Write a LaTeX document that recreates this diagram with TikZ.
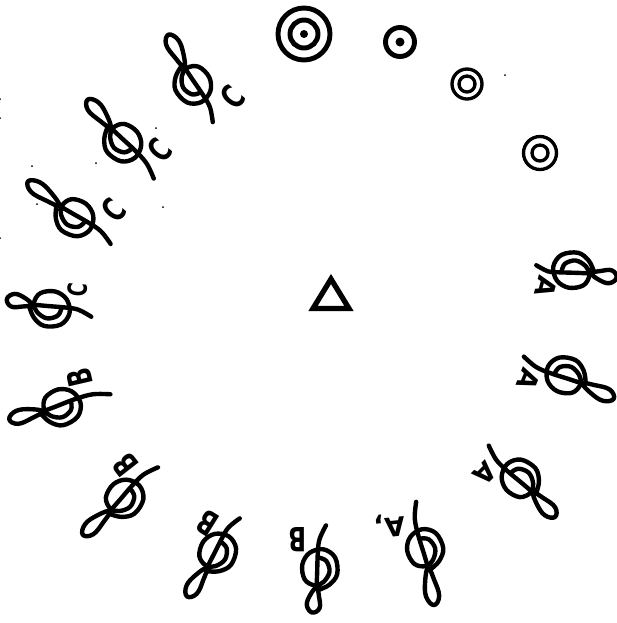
\documentclass[tikz,border=0pt]{standalone}
\usepackage{fontspec}
\setmainfont{DejaVu Sans}
\tikzset{
  inkline/.style={line width=2.5pt, line cap=round, line join=round},
  thinring/.style={line width=1.9pt},
  thickring/.style={line width=2.8pt},
  cleftext/.style={inner sep=0pt, font=\bfseries\fontsize{15}{15}\selectfont},
  bigtext/.style={inner sep=0pt, font=\bfseries\fontsize{19}{19}\selectfont}
}
% one clef: centre x, centre y, turn, loop stretch, tail length
\newcommand{\clefsign}[5]{
  \begin{scope}[shift={(#1,#2)}, rotate=#3, inkline]
    \draw plot[smooth cycle, tension=0.7] coordinates {
      (0,-20) (5,{-20-12*#4}) (6.5,{-20-27*#4}) (0,{-20-36*#4}) (-6.5,{-20-28*#4}) (-4,{-20-12*#4})
    };
    \draw plot[smooth, tension=0.6] coordinates {
      (0,-20) (2,-5) (4.6,13) (5.5,{#5*0.65}) (1.5,#5)
    };
    \draw plot[smooth, tension=0.6] coordinates {
      (-2,-22) (-12,-15) (-18,-3) (-13,13) (0,19) (13,13) (18,0) (13,-14) (2,-18) (-6,-13) (-10,-2) (-5,8) (3,10)
    };
  \end{scope}
}
\begin{document}
\begin{tikzpicture}[x=0.02cm, y=-0.02cm]
\useasboundingbox (0,0) rectangle (617,623);

% Triangle in the middle
\draw[line width=3pt, line join=miter] (331,279) -- (349,308.5) -- (313,308.5) -- cycle;

% Rings
\draw[thickring] (304,34) circle (26);
\draw[thickring] (304,34) circle (14);
\fill (304,34) circle (4);
\draw[thickring] (400,42) circle (14.5);
\fill (400,42) circle (4.5);
\draw[thinring] (467,84) circle (15);
\draw[thinring] (467,84) circle (8);
\draw[thinring] (540,153) circle (16.5);
\draw[thinring] (540,153) circle (8);

% Clefs, going round from the top
\foreach \cx/\cy/\turn/\stretch/\tail in {193/85/26/1/42, 123/143/39/1/47, 75/218/52/1.1/44, 51/309/77/0.7/41,
  62/407/103/0.95/50, 125/498/131/1/45, 218/552/145/0.95/40, 320/568/170/0.7/43,
  425/548/189/1.05/47, 520/478/222/0.9/45, 565/375/244/0.95/45, 572/270/260/0.7/36} {
  \clefsign{\cx}{\cy}{\turn}{\stretch}{\tail}
}

% Letters beside the clefs
\node[bigtext, rotate=50, xscale=0.7] (cone) at (233,97) {C};
\node[bigtext, rotate=50, xscale=0.7] (ctwo) at (160,150) {C};
\node[bigtext, rotate=50, xscale=0.7] (cthree) at (114,210) {C};
\node[cleftext, rotate=85, xscale=0.7] (cfour) at (78,290) {C};
\node[bigtext, rotate=103, xscale=0.7] (bone) at (80,378) {B};
\node[bigtext, rotate=128, xscale=0.7] (btwo) at (125,465) {B};
\node[bigtext, rotate=148, xscale=0.7] (bthree) at (207,523) {B};
\node[bigtext, rotate=180, xscale=0.7] (bfour) at (298,540) {B};
\node[cleftext, rotate=186] (aone) at (390,526) {A,};
\node[cleftext, rotate=225] (atwo) at (485,473) {A};
\node[cleftext, rotate=248] (athree) at (529,380) {A};
\node[cleftext, rotate=255] (afour) at (546,287) {A};

% Specks of ink
\foreach \sx/\sy in {163/207, 156/128, 96/163, 32/166, 37/204, 505/75, 0/99, 0/118, 0/238} {
  \fill (\sx,\sy) circle (1);
}

\end{tikzpicture}
\end{document}
